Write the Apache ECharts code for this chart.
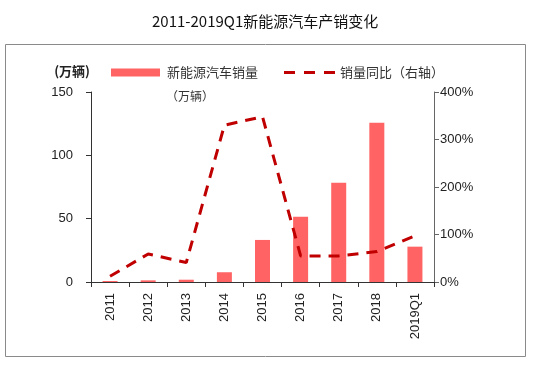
<!DOCTYPE html>
<html>
<head>
<meta charset="utf-8">
<script src="https://cdn.jsdelivr.net/npm/echarts@6/dist/echarts.min.js"></script>
<style>
html,body{margin:0;padding:0;background:#fff;}
#chart{width:536px;height:370px;}
</style>
</head>
<body>
<div id="chart"></div>
<script>
const categories = ['2011','2012','2013','2014','2015','2016','2017','2018','2019Q1'];
const salesValues = [0.8, 1.3, 1.8, 7.7, 33.2, 51.6, 78.4, 125.8, 27.9];
const growthValues = [12, 59, 41, 330, 348, 55, 55, 64, 97];
const leftTicks = {min: 0, max: 150, interval: 50};
const rightTicks = {min: 0, max: 400, interval: 100};
const titleText = '2011-2019Q1新能源汽车产销变化';
const salesName = '新能源汽车销量';
const growthName = '销量同比（右轴）';
const unitText = '(万辆)';
const unitText2 = '（万辆）';

const chart = echarts.init(document.getElementById('chart'));
const axisLabelStyle = {fontFamily: 'Liberation Sans, Arial', fontSize: 13, color: '#222'};
chart.setOption({
  animation: false,
  backgroundColor: '#fff',
  title: {
    text: titleText, left: 147, top: 9,
    textStyle: {fontFamily: 'Noto Sans CJK SC', fontSize: 15, fontWeight: 'normal', color: '#111'}
  },
  graphic: [
    {type: 'rect', shape: {x: 5.5, y: 44.5, width: 520, height: 312}, style: {fill: 'none', stroke: '#8a8a8a', lineWidth: 1}, silent: true, z: -1},
    {type: 'text', left: 166, top: 90, style: {text: unitText2, fontFamily: 'Noto Sans CJK SC', fontSize: 12, fill: '#333'}}
  ],
  legend: [
    {
      data: [salesName], left: 106, top: 61, itemWidth: 49, itemHeight: 8,
      icon: 'rect',
      textStyle: {fontFamily: 'Noto Sans CJK SC', fontSize: 13, color: '#333', padding: [0,0,0,2]}
    },
    {
      data: [growthName], left: 279, top: 61, itemWidth: 51, itemHeight: 3,
      icon: 'path://M0,0h11v3h-11zM20,0h11v3h-11zM40,0h11v3h-11z',
      itemStyle: {color: '#C00000'},
      textStyle: {fontFamily: 'Noto Sans CJK SC', fontSize: 13, color: '#333'}
    }
  ],
  grid: {left: 91, right: 102, top: 92, bottom: 88},
  xAxis: {
    type: 'category', data: categories,
    axisLine: {lineStyle: {color: '#333', width: 1}},
    axisTick: {show: true, length: 5, alignWithLabel: false, lineStyle: {color: '#333'}},
    axisLabel: Object.assign({rotate: 90, margin: 11, interval: 0}, axisLabelStyle)
  },
  yAxis: [
    {
      type: 'value', min: leftTicks.min, max: leftTicks.max, interval: leftTicks.interval,
      name: unitText, nameLocation: 'end', nameGap: 14,
      nameTextStyle: {fontFamily: 'Noto Sans CJK SC', fontSize: 13, fontWeight: 'bold', color: '#222', align: 'right', padding: [0, 1, 0, 0]},
      axisLine: {show: true, lineStyle: {color: '#333'}},
      axisTick: {show: true, length: 5, lineStyle: {color: '#333'}},
      axisLabel: Object.assign({margin: 18}, axisLabelStyle),
      splitLine: {show: false}
    },
    {
      type: 'value', min: rightTicks.min, max: rightTicks.max, interval: rightTicks.interval,
      position: 'right',
      axisLine: {show: true, lineStyle: {color: '#666'}},
      axisTick: {show: true, length: 5, lineStyle: {color: '#666'}},
      axisLabel: Object.assign({margin: 6, formatter: '{value}%'}, axisLabelStyle),
      splitLine: {show: false}
    }
  ],
  series: [
    {
      name: salesName, type: 'bar', data: salesValues, barWidth: 15,
      itemStyle: {color: '#FF6363'}, yAxisIndex: 0
    },
    {
      name: growthName, type: 'line', data: growthValues, yAxisIndex: 1,
      symbol: 'none', smooth: false,
      lineStyle: {color: '#C00000', width: 3, type: [11, 8]},
      itemStyle: {color: '#C00000'}
    }
  ]
});
</script>
</body>
</html>
